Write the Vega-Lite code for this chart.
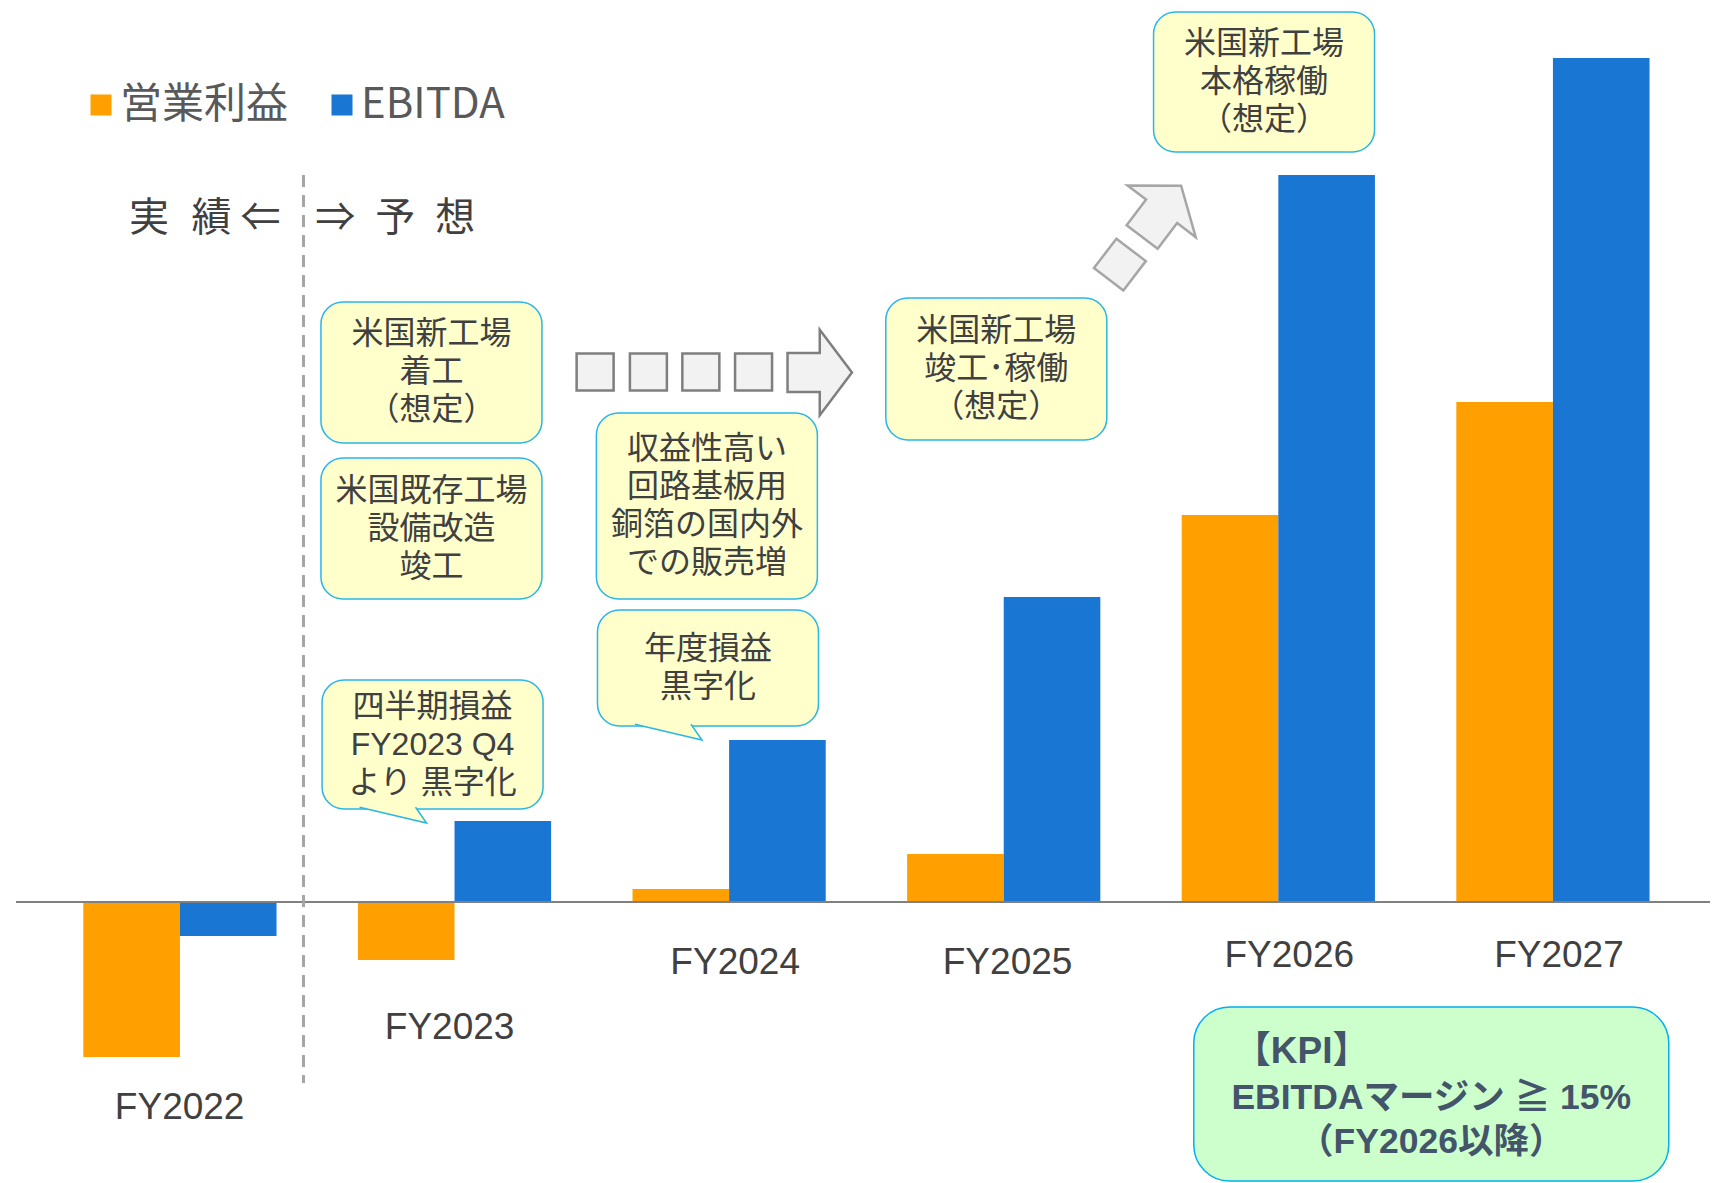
{
  "$schema": "https://vega.github.io/schema/vega-lite/v6.json",
  "width": 1715,
  "height": 1183,
  "padding": 0,
  "autosize": {"type": "none"},
  "background": "white",
  "config": {
    "view": {"stroke": null},
    "font": "Noto Sans CJK JP",
    "legend": {"padding": 0}
  },
  "datasets": {
    "bars": [
      {"fy": 2022, "series": "営業利益", "value": -15.5},
      {"fy": 2022, "series": "EBITDA", "value": -3.4},
      {"fy": 2023, "series": "営業利益", "value": -5.8},
      {"fy": 2023, "series": "EBITDA", "value": 8.1},
      {"fy": 2024, "series": "営業利益", "value": 1.3},
      {"fy": 2024, "series": "EBITDA", "value": 16.2},
      {"fy": 2025, "series": "営業利益", "value": 4.8},
      {"fy": 2025, "series": "EBITDA", "value": 30.5},
      {"fy": 2026, "series": "営業利益", "value": 38.7},
      {"fy": 2026, "series": "EBITDA", "value": 72.7},
      {"fy": 2027, "series": "営業利益", "value": 50.0},
      {"fy": 2027, "series": "EBITDA", "value": 84.4}
    ],
    "years": [
      {"label": "FY2022", "labelFy": 2021.999, "labelY": -20.6},
      {"label": "FY2023", "labelFy": 2022.982, "labelY": -12.6},
      {"label": "FY2024", "labelFy": 2024.022, "labelY": -6.1},
      {"label": "FY2025", "labelFy": 2025.014, "labelY": -6.1},
      {"label": "FY2026", "labelFy": 2026.04, "labelY": -5.4},
      {"label": "FY2027", "labelFy": 2027.022, "labelY": -5.4}
    ],
    "notes": [
      {"id": "n1", "fy": 2022.916, "top": 60.0, "bottom": 45.9, "mid": 53.0, "kind": "box", "text": "米国新工場\n着工\n（想定）"},
      {"id": "n2", "fy": 2022.916, "top": 44.4, "bottom": 30.3, "mid": 37.3, "kind": "box", "text": "米国既存工場\n設備改造\n竣工"},
      {"id": "n3", "fy": 2022.92, "top": 22.2, "bottom": 9.3, "mid": 15.7, "kind": "callout", "text": "四半期損益\nFY2023 Q4\nより 黒字化"},
      {"id": "n4", "fy": 2023.919, "top": 48.9, "bottom": 30.3, "mid": 39.6, "kind": "box", "text": "収益性高い\n回路基板用\n銅箔の国内外\nでの販売増"},
      {"id": "n5", "fy": 2023.923, "top": 29.2, "bottom": 17.6, "mid": 23.4, "kind": "callout", "text": "年度損益\n黒字化"},
      {"id": "n6", "fy": 2024.973, "top": 60.4, "bottom": 46.2, "mid": 53.3, "kind": "box", "text": "米国新工場\n竣工･稼働\n（想定）"},
      {"id": "n7", "fy": 2025.948, "top": 89.0, "bottom": 75.0, "mid": 82.0, "kind": "box", "text": "米国新工場\n本格稼働\n（想定）"}
    ],
    "steps": [
      {"fy": 2023.512, "v": 53.0},
      {"fy": 2023.706, "v": 53.0},
      {"fy": 2023.897, "v": 53.0},
      {"fy": 2024.089, "v": 53.0}
    ]
  },
  "layer": [
    {
      "data": {"name": "bars"},
      "transform": [{"filter": "datum.series == '営業利益'"}],
      "mark": {"type": "bar", "width": 96.6, "xOffset": -48.3},
      "encoding": {
        "x": {"field": "fy", "type": "quantitative", "axis": null, "scale": {"domain": [2021.363, 2027.572], "nice": false, "zero": false}},
        "y": {"field": "value", "type": "quantitative", "axis": null, "scale": {"domain": [-28.1, 90.2], "nice": false, "zero": false}},
        "y2": {"datum": 0},
        "color": {
          "field": "series", "type": "nominal",
          "scale": {"domain": ["営業利益", "EBITDA"], "range": ["#FF9F00", "#1976D2"]},
          "legend": {"orient": "none", "legendX": 80, "legendY": 84, "direction": "horizontal", "title": null, "symbolType": "square", "symbolSize": 441, "symbolStrokeWidth": 0, "symbolOpacity": 1, "labelFontSize": 42, "labelLimit": 0, "labelColor": "#595959", "labelFont": "Noto Sans CJK JP", "labelOffset": -2, "columnPadding": 32}
        }
      }
    },
    {
      "data": {"name": "bars"},
      "transform": [{"filter": "datum.series == 'EBITDA'"}],
      "mark": {"type": "bar", "width": 96.6, "xOffset": 48.3},
      "encoding": {
        "x": {"field": "fy", "type": "quantitative", "axis": null, "scale": {"domain": [2021.363, 2027.572], "nice": false, "zero": false}},
        "y": {"field": "value", "type": "quantitative", "axis": null, "scale": {"domain": [-28.1, 90.2], "nice": false, "zero": false}},
        "y2": {"datum": 0},
        "color": {"field": "series", "type": "nominal", "scale": {"domain": ["営業利益", "EBITDA"], "range": ["#FF9F00", "#1976D2"]}}
      }
    },
    {
      "data": {"values": [{}]},
      "mark": {"type": "rule", "color": "#808080", "strokeWidth": 2},
      "encoding": {
        "x": {"datum": 2021.403, "type": "quantitative"},
        "x2": {"datum": 2027.572},
        "y": {"datum": 0, "type": "quantitative"}
      }
    },
    {
      "data": {"values": [{}]},
      "mark": {"type": "rule", "color": "#A6A6A6", "strokeWidth": 3, "strokeDash": [12, 8]},
      "encoding": {
        "x": {"datum": 2022.45, "type": "quantitative"},
        "y": {"datum": 72.7, "type": "quantitative"},
        "y2": {"datum": -18.1}
      }
    },
    {
      "data": {"name": "years"},
      "mark": {"type": "text", "font": "Liberation Sans", "fontSize": 37, "color": "#404040", "align": "center", "baseline": "middle"},
      "encoding": {
        "x": {"field": "labelFy", "type": "quantitative"},
        "y": {"field": "labelY", "type": "quantitative"},
        "text": {"field": "label"}
      }
    },
    {
      "data": {"values": [{"fy": 2022.366, "v": 68.3, "text": "実\u2002\u200a績 ⇐"}]},
      "mark": {"type": "text", "fontSize": 40, "color": "#404040", "align": "right", "baseline": "middle"},
      "encoding": {
        "x": {"field": "fy", "type": "quantitative"},
        "y": {"field": "v", "type": "quantitative"},
        "text": {"field": "text"}
      }
    },
    {
      "data": {"values": [{"fy": 2022.493, "v": 68.3, "text": "⇒\u2002予\u2002想"}]},
      "mark": {"type": "text", "fontSize": 40, "color": "#404040", "align": "left", "baseline": "middle"},
      "encoding": {
        "x": {"field": "fy", "type": "quantitative"},
        "y": {"field": "v", "type": "quantitative"},
        "text": {"field": "text"}
      }
    },
    {
      "data": {"name": "steps"},
      "mark": {"type": "point", "shape": "square", "size": 1369, "filled": true, "fill": "#F2F2F2", "stroke": "#7F7F7F", "strokeWidth": 2.5, "opacity": 1},
      "encoding": {
        "x": {"field": "fy", "type": "quantitative"},
        "y": {"field": "v", "type": "quantitative"}
      }
    },
    {
      "data": {"values": [{"fy": 2024.33, "v": 52.95}]},
      "mark": {"type": "point", "shape": "M-0.716,-0.433L0,-0.433L0,-0.952L0.716,0L0,0.952L0,0.433L-0.716,0.433Z", "size": 8100, "filled": true, "fill": "#F2F2F2", "stroke": "#7F7F7F", "strokeWidth": 2.5, "opacity": 1},
      "encoding": {
        "x": {"field": "fy", "type": "quantitative"},
        "y": {"field": "v", "type": "quantitative"}
      }
    },
    {
      "data": {"values": [{"fy": 2025.423, "v": 63.74}]},
      "mark": {"type": "point", "shape": "square", "size": 1369, "angle": 37.4, "filled": true, "fill": "#F2F2F2", "stroke": "#A6A6A6", "strokeWidth": 2.5, "opacity": 1},
      "encoding": {
        "x": {"field": "fy", "type": "quantitative"},
        "y": {"field": "v", "type": "quantitative"}
      }
    },
    {
      "data": {"values": [{"fy": 2025.575, "v": 69.07}]},
      "mark": {"type": "point", "shape": "M-0.716,-0.433L0,-0.433L0,-0.952L0.716,0L0,0.952L0,0.433L-0.716,0.433Z", "size": 8100, "angle": -52.8, "filled": true, "fill": "#F2F2F2", "stroke": "#A6A6A6", "strokeWidth": 2.5, "opacity": 1},
      "encoding": {
        "x": {"field": "fy", "type": "quantitative"},
        "y": {"field": "v", "type": "quantitative"}
      }
    },
    {
      "data": {"name": "notes"},
      "mark": {"type": "bar", "width": 221, "cornerRadius": 22, "fill": "#FFFFCC", "stroke": "#29B6E8", "strokeWidth": 1.5},
      "encoding": {
        "x": {"field": "fy", "type": "quantitative"},
        "y": {"field": "top", "type": "quantitative"},
        "y2": {"field": "bottom"}
      }
    },
    {
      "data": {"name": "notes"},
      "transform": [{"filter": "datum.kind == 'callout'"}],
      "mark": {"type": "point", "shape": "M-0.943,-0.05L0.971,0.4L0.657,-0.05", "size": 4900, "xOffset": -40, "filled": true, "fill": "#FFFFCC", "stroke": "#29B6E8", "strokeWidth": 1.5, "opacity": 1},
      "encoding": {
        "x": {"field": "fy", "type": "quantitative"},
        "y": {"field": "bottom", "type": "quantitative"}
      }
    },
    {
      "data": {"name": "notes"},
      "mark": {"type": "text", "font": "Liberation Sans, Noto Sans CJK JP", "fontSize": 32, "lineHeight": 38, "lineBreak": "\n", "color": "#404040", "align": "center", "baseline": "middle", "dy": {"expr": "-(length(split(datum.text, '\\n')) - 1) * 19"}},
      "encoding": {
        "x": {"field": "fy", "type": "quantitative"},
        "y": {"field": "mid", "type": "quantitative"},
        "text": {"field": "text"}
      }
    },
    {
      "data": {"values": [{"fy": 2026.557, "top": -10.5, "bottom": -27.9}]},
      "mark": {"type": "bar", "width": 475, "cornerRadius": 36, "fill": "#CCFFCC", "stroke": "#00B0F0", "strokeWidth": 1.5},
      "encoding": {
        "x": {"field": "fy", "type": "quantitative"},
        "y": {"field": "top", "type": "quantitative"},
        "y2": {"field": "bottom"}
      }
    },
    {
      "data": {"values": [{"fy": 2025.838, "v": -15.0, "text": "【KPI】"}]},
      "mark": {"type": "text", "font": "Liberation Sans, Noto Sans CJK JP", "fontWeight": "bold", "fontSize": 37, "color": "#44546A", "align": "left", "baseline": "middle"},
      "encoding": {
        "x": {"field": "fy", "type": "quantitative"},
        "y": {"field": "v", "type": "quantitative"},
        "text": {"field": "text"}
      }
    },
    {
      "data": {"values": [{"fy": 2026.557, "v": -21.8, "text": "EBITDAマージン ≧ 15%\n（FY2026以降）"}]},
      "mark": {"type": "text", "font": "Liberation Sans, Noto Sans CJK JP", "fontWeight": "bold", "fontSize": 35.5, "lineHeight": 44, "lineBreak": "\n", "color": "#44546A", "align": "center", "baseline": "middle", "dy": -22},
      "encoding": {
        "x": {"field": "fy", "type": "quantitative"},
        "y": {"field": "v", "type": "quantitative"},
        "text": {"field": "text"}
      }
    }
  ]
}
